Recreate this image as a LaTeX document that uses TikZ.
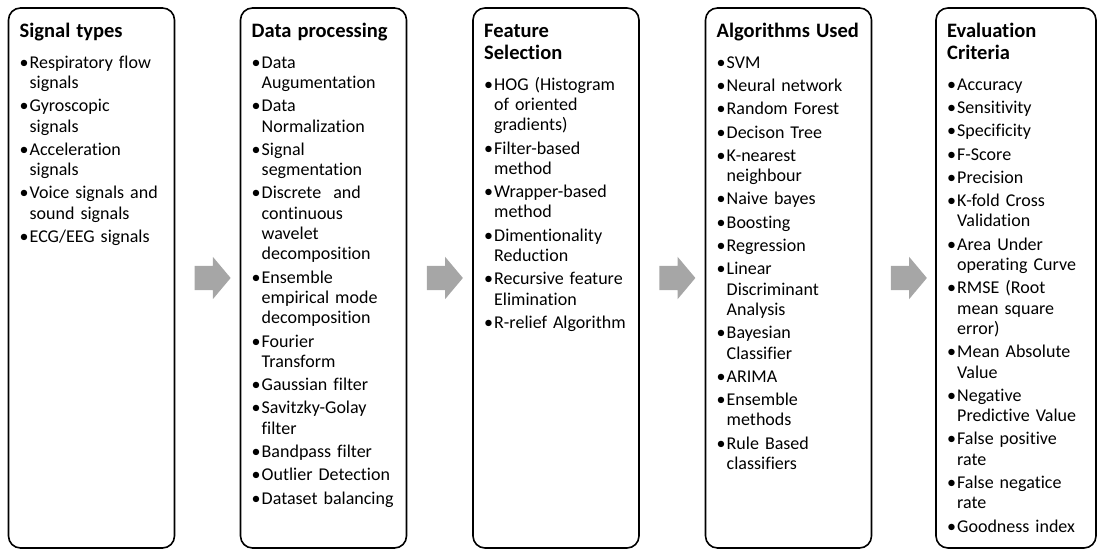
\documentclass[tikz,border=0pt]{standalone}
\usepackage{fontspec}
\setmainfont{Carlito}[Ligatures=NoCommon]
\usetikzlibrary{positioning,calc,shapes.arrows}
\definecolor{arrowgray}{RGB}{166,166,166}
\setlength{\parindent}{0pt}
\newcommand{\itm}[1]{\par\hangindent=10pt\hangafter=1\makebox[10pt][l]{\textbullet}#1}
\newcommand{\stagetitle}[1]{{\fontsize{20.5}{22}\bfseries\rule{0pt}{16pt}#1\par}\vspace{7.7pt}}
\tikzset{
  stagebox/.style={draw=black, line width=1.6pt, rounded corners=12pt, minimum width=166pt, minimum height=540pt, outer sep=0pt, inner sep=0pt},
  stagetext/.style={inner sep=0pt, text width=152pt, font=\fontsize{18}{20.3}\selectfont\setlength{\parskip}{3pt}},
  flowarrow/.style={single arrow, fill=arrowgray, draw=none, inner xsep=0pt, inner ysep=12pt, minimum height=36pt, single arrow head extend=9pt, single arrow tip angle=100},
}

\begin{document}
\begin{tikzpicture}
\useasboundingbox (0,0) rectangle (38.590,19.330);
\node[stagebox] (b1) at (3.216,9.560) {};
\node[stagebox] (b2) at (11.370,9.560) {};
\node[stagebox] (b3) at (19.541,9.560) {};
\node[stagebox] (b4) at (27.713,9.560) {};
\node[stagebox, minimum width=160pt] (b5) at (35.708,9.560) {};
\node[flowarrow] (a1) at ($(b1.east)!0.5!(b2.west)$) {};
\node[flowarrow] (a2) at ($(b2.east)!0.5!(b3.west)$) {};
\node[flowarrow] (a3) at ($(b3.east)!0.5!(b4.west)$) {};
\node[flowarrow] (a4) at ($(b4.east)!0.5!(b5.west)$) {};
\node[stagetext, below right=13pt and 11pt of b1.north west] (t1) {\stagetitle{Signal types}%
  \itm{Respiratory flow\newline signals}
  \itm{Gyroscopic\newline signals}
  \itm{Acceleration\newline signals}
  \itm{Voice signals and\newline sound signals}
  \itm{ECG/EEG signals}\par};
\node[stagetext, below right=13pt and 11pt of b2.north west] (t2) {\stagetitle{Data processing}%
  \itm{Data\newline Augumentation}
  \itm{Data\newline Normalization}
  \itm{Signal\newline segmentation}
  \itm{Discrete~ and\newline continuous\newline wavelet\newline decomposition}
  \itm{Ensemble\newline empirical mode\newline decomposition}
  \itm{Fourier\newline Transform}
  \itm{Gaussian filter}
  \itm{Savitzky-Golay\newline filter}
  \itm{Bandpass filter}
  \itm{Outlier Detection}
  \itm{Dataset balancing}\par};
\node[stagetext, below right=13pt and 11pt of b3.north west] (t3) {\stagetitle{Feature\newline Selection}%
  \itm{HOG (Histogram\newline of oriented\newline gradients)}
  \itm{Filter-based\newline method}
  \itm{Wrapper-based\newline method}
  \itm{Dimentionality\newline Reduction}
  \itm{Recursive feature\newline Elimination}
  \itm{R-relief Algorithm}\par};
\node[stagetext, below right=13pt and 11pt of b4.north west] (t4) {\stagetitle{Algorithms Used}%
  \itm{SVM}
  \itm{Neural network}
  \itm{Random Forest}
  \itm{Decison Tree}
  \itm{K-nearest\newline neighbour}
  \itm{Naive bayes}
  \itm{Boosting}
  \itm{Regression}
  \itm{Linear\newline Discriminant\newline Analysis}
  \itm{Bayesian\newline Classifier}
  \itm{ARIMA}
  \itm{Ensemble\newline methods}
  \itm{Rule Based\newline classifiers}\par};
\node[stagetext, below right=13pt and 11pt of b5.north west] (t5) {\stagetitle{Evaluation\newline Criteria}%
  \itm{Accuracy}
  \itm{Sensitivity}
  \itm{Specificity}
  \itm{F-Score}
  \itm{Precision}
  \itm{K-fold Cross\newline Validation}
  \itm{Area Under\newline operating Curve}
  \itm{RMSE (Root\newline mean square\newline error)}
  \itm{Mean Absolute\newline Value}
  \itm{Negative\newline Predictive Value}
  \itm{False positive\newline rate}
  \itm{False negatice\newline rate}
  \itm{Goodness index}\par};
\end{tikzpicture}
\end{document}
